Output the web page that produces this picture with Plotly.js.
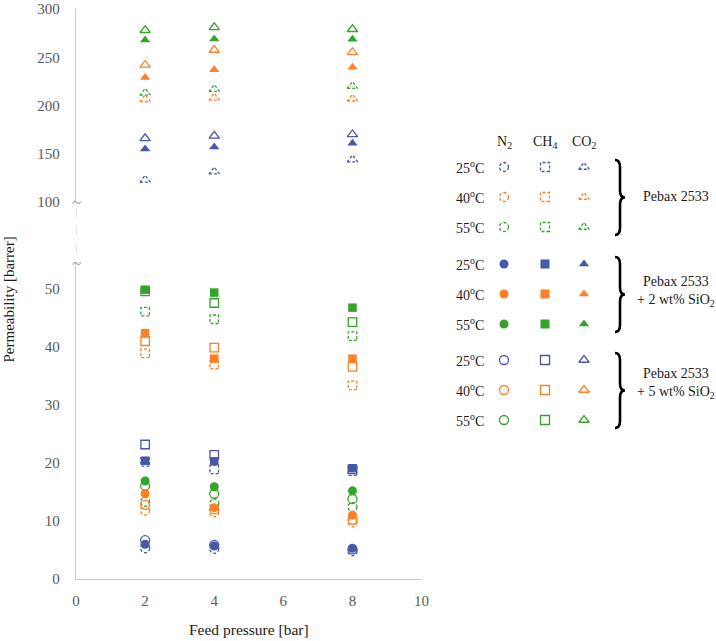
<!DOCTYPE html>
<html>
<head>
<meta charset="utf-8">
<script src="https://cdn.plot.ly/plotly-3.0.1.min.js"></script>
<style>html,body{margin:0;padding:0;background:#fff;}#chart{width:716px;height:641px;}</style>
</head>
<body>
<div id="chart"></div>
<script>
// ---------- data ----------
const pressure = [2, 4, 8];               // feed pressure [bar]
const temps = ['25', '40', '55'];          // °C
const gasLabels = ['N<sub>2</sub>', 'CH<sub>4</sub>', 'CO<sub>2</sub>'];
const membraneLabels = ['Pebax 2533', 'Pebax 2533<br>+ 2 wt% SiO<sub>2</sub>', 'Pebax 2533<br>+ 5 wt% SiO<sub>2</sub>'];

// rows: 25 °C, 40 °C, 55 °C ; columns: 2, 4, 8 bar
const pebaxN2   = [[5.3, 5.2, 4.8],   [11.8, 11.5, 9.8],  [13.3, 13.0, 12.4]];
const pebaxCH4  = [[20.2, 18.9, 18.6],[38.9, 37.0, 33.4], [46.1, 44.8, 41.9]];
const pebaxCO2  = [[123, 131.5, 144], [206.5, 208, 207],  [213, 217, 220]];

const si2N2     = [[6.0, 5.7, 5.3],   [14.7, 12.3, 11.0], [16.9, 15.9, 15.2]];
const si2CH4    = [[20.4, 20.3, 19.1],[42.4, 38.0, 38.0], [49.9, 49.4, 46.8]];
const si2CO2    = [[155, 157, 161],   [229, 237, 239.6],  [268, 269, 268.6]];

const si5N2     = [[6.7, 5.9, 5.1],   [12.8, 12.0, 10.2], [16.1, 14.7, 13.8]];
const si5CH4    = [[23.2, 21.4, 18.9],[41.0, 39.9, 36.6], [49.6, 47.6, 44.3]];
const si5CO2    = [[166, 168.5, 170], [242, 257.5, 255],  [278, 281, 279]];

const xTicks = [0, 2, 4, 6, 8, 10];
const yTicksLow = [0, 10, 20, 30, 40, 50];
const yTicksHigh = [100, 150, 200, 250, 300];

// ---------- styles ----------
const tempColors = ['#4858a8', '#ff7f27', '#36a32c'];
const gasSymbols = ['circle', 'square', 'triangle-up'];
const gasSizes = [9, 8.5, 9];
const FONT = 'Liberation Serif, Times New Roman, serif';

// membrane order for drawing: pebax (dashed), 5 wt% (open), 2 wt% (filled on top)
const membranes = [
  {idx: 0, data: [pebaxN2, pebaxCH4, pebaxCO2], style: 'dash'},
  {idx: 2, data: [si5N2, si5CH4, si5CO2], style: 'open'},
  {idx: 1, data: [si2N2, si2CH4, si2CO2], style: 'fill'}
];

function markerFor(style, g, t, sz) {
  const c = tempColors[t];
  if (style === 'fill') return {symbol: gasSymbols[g], size: sz, color: c, line: {width: 0}};
  return {symbol: gasSymbols[g] + '-open', size: sz, color: c, line: {width: 1.3, color: c}};
}

const traces = [];
membranes.forEach(m => {
  for (let g = 0; g < 3; g++) {
    for (let t = 0; t < 3; t++) {
      traces.push({
        type: 'scatter', mode: 'markers',
        x: pressure, y: m.data[g][t],
        xaxis: 'x', yaxis: g === 2 ? 'y2' : 'y',
        marker: markerFor(m.style, g, t, gasSizes[g]),
        meta: m.style, cliponaxis: false, showlegend: false, hoverinfo: 'x+y'
      });
    }
  }
});

// ---------- custom legend (pixel-coordinate overlay axes x2 / y3) ----------
const legColX = [504, 545, 584];
const legGroupTop = [167, 264, 360];
const legRowGap = 30;
const legendOrder = [0, 1, 2]; // pebax, 2 wt%, 5 wt%
const legStyles = ['dash', 'fill', 'open'];
const annotations = [];
const shapes = [];

legendOrder.forEach(gi => {
  for (let t = 0; t < 3; t++) {
    const yRow = legGroupTop[gi] + t * legRowGap;
    for (let g = 0; g < 3; g++) {
      traces.push({
        type: 'scatter', mode: 'markers', x: [legColX[g]], y: [yRow],
        xaxis: 'x2', yaxis: 'y3',
        marker: markerFor(legStyles[gi], g, t, 9),
        meta: legStyles[gi], showlegend: false, hoverinfo: 'skip', cliponaxis: false
      });
    }
    annotations.push({xref: 'x2', yref: 'y3', x: 486, y: yRow, xanchor: 'right', yanchor: 'middle',
      text: temps[t] + '<sup>o</sup>C', showarrow: false, font: {family: FONT, size: 14, color: '#1a1a1a'}});
  }
  const top = legGroupTop[gi] - 7, bot = legGroupTop[gi] + 2 * legRowGap + 8, mid = (top + bot) / 2;
  const x0 = 615, xm = 620, x1 = 625, r = 7;
  shapes.push({type: 'path', xref: 'x2', yref: 'y3', line: {color: '#000', width: 2.6},
    path: `M${x0},${top} Q${xm},${top} ${xm},${top + r} L${xm},${mid - r} Q${xm},${mid} ${x1},${mid} Q${xm},${mid} ${xm},${mid + r} L${xm},${bot - r} Q${xm},${bot} ${x0},${bot}`});
});
const legLabelY = [196, 291, 383];
legendOrder.forEach(gi => {
  annotations.push({xref: 'x2', yref: 'y3', x: 676, y: legLabelY[gi], xanchor: 'center', yanchor: 'middle',
    text: membraneLabels[gi], showarrow: false, align: 'center', font: {family: FONT, size: 14, color: '#1a1a1a'}});
});
gasLabels.forEach((lab, g) => {
  annotations.push({xref: 'x2', yref: 'y3', x: legColX[g], y: 142, xanchor: 'center', yanchor: 'middle',
    text: lab, showarrow: false, font: {family: FONT, size: 14, color: '#1a1a1a'}});
});

// axis break decoration
shapes.push({type: 'line', xref: 'x2', yref: 'y3', x0: 76, x1: 76, y0: 208, y1: 257,
  line: {color: '#c8c8c8', width: 1, dash: 'dash'}});
[202, 263].forEach(yy => annotations.push({xref: 'x2', yref: 'y3', x: 76, y: yy, xanchor: 'center', yanchor: 'middle',
  text: '~', showarrow: false, font: {family: FONT, size: 17, color: '#9a9a9a'}}));

// y-axis title
annotations.push({xref: 'paper', yref: 'paper', x: -0.105, y: 0.49, xanchor: 'center', yanchor: 'middle',
  textangle: -90, text: 'Permeability [barrer]', showarrow: false, font: {family: FONT, size: 15, color: '#1a1a1a'}});

const axisLine = '#cfcac6';
const tickFont = {family: FONT, size: 15, color: '#595959'};

const layout = {
  width: 716, height: 641,
  margin: {l: 76, r: 0, t: 9, b: 62},
  paper_bgcolor: '#fff', plot_bgcolor: 'rgba(0,0,0,0)',
  showlegend: false,
  font: {family: FONT},
  xaxis: {domain: [0, 0.540], range: [0, 10], tickvals: xTicks, ticks: '', showgrid: false, zeroline: false,
    showline: true, linecolor: axisLine, linewidth: 1.2, tickfont: tickFont, anchor: 'y', ticklabelstandoff: 8,
    title: {text: 'Feed pressure [bar]', font: {family: FONT, size: 15.5, color: '#1a1a1a'}, standoff: 16}},
  yaxis: {domain: [0, 0.5544], range: [0, 54.5], tickvals: yTicksLow, ticks: '', showgrid: false, zeroline: false,
    showline: true, linecolor: axisLine, linewidth: 1.2, tickfont: tickFont, anchor: 'x', ticklabelstandoff: 12},
  yaxis2: {domain: [0.6614, 1], range: [100, 300], tickvals: yTicksHigh, ticks: '', showgrid: false, zeroline: false,
    showline: true, linecolor: axisLine, linewidth: 1.2, tickfont: tickFont, anchor: 'x', ticklabelstandoff: 12},
  xaxis2: {domain: [0, 1], range: [76, 716], visible: false, anchor: 'y3', fixedrange: true},
  yaxis3: {domain: [0, 1], range: [579, 9], visible: false, anchor: 'x2', fixedrange: true},
  shapes: shapes,
  annotations: annotations
};

Plotly.newPlot('chart', traces, layout, {displayModeBar: false, staticPlot: true}).then(gd => {
  gd.querySelectorAll('.scatterlayer .trace').forEach(el => {
    const cd = el.__data__;
    if (cd && cd[0] && cd[0].trace && cd[0].trace.meta === 'dash') {
      el.querySelectorAll('path.point').forEach(p => { p.style.strokeDasharray = '3,2'; });
    }
  });
});
</script>
</body>
</html>
